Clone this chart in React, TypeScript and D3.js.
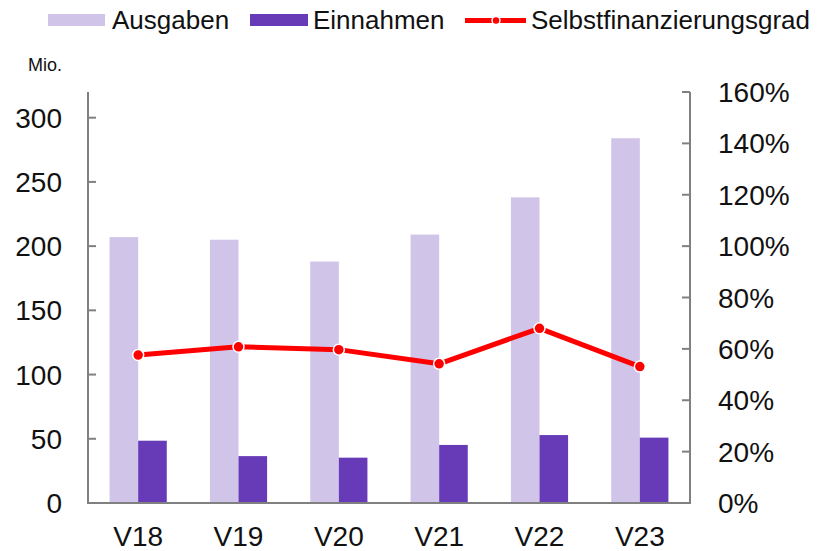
import React from "react";
import * as d3 from "d3";

const categories = ["V18", "V19", "V20", "V21", "V22", "V23"];
const ausgaben = [207, 205, 188, 209, 238, 284];
const einnahmen = [48.5, 36.5, 35.3, 45.2, 52.9, 50.9];
const selbstfinanzierungsgrad = [57.6, 60.8, 59.7, 54.2, 68.0, 53.1];
const leftTicks = [0, 50, 100, 150, 200, 250, 300];
const rightTicks = [0, 20, 40, 60, 80, 100, 120, 140, 160];

const W = 819;
const H = 551;
const FONT = "'Liberation Sans', Arial, sans-serif";
const LIGHT = "#D1C4E9";
const DARK = "#673AB7";
const RED = "#FF0000";
const AXIS = "#808080";

export default function App() {
  const left = 88;
  const right = 690;
  const top = 92;
  const bottom = 503;

  const x = d3.scaleBand<string>().domain(categories).range([left, right]).paddingInner(0.43).paddingOuter(0.215);
  const sub = d3.scaleBand<string>().domain(["a", "e"]).range([0, x.bandwidth()]);
  const yL = d3.scaleLinear().domain([0, 320]).range([bottom, top]);
  const yR = d3.scaleLinear().domain([0, 160]).range([bottom, top]);

  const line = d3
    .line<number>()
    .x((_, i) => (x(categories[i]) as number) + x.bandwidth() / 2)
    .y((d) => yR(d));

  return (
    <svg width={W} height={H} style={{ position: "absolute", left: 0, top: 0, background: "#fff" }} fontFamily={FONT}>
      {/* Legend */}
      <rect x={48} y={14} width={57} height={12} fill={LIGHT} />
      <text x={112} y={29} fontSize={26} fill="#111">Ausgaben</text>
      <rect x={250} y={14} width={58} height={12} fill={DARK} />
      <text x={313} y={29} fontSize={26} fill="#111">Einnahmen</text>
      <line x1={465} x2={526} y1={20.5} y2={20.5} stroke={RED} strokeWidth={5} />
      <circle cx={496} cy={20.5} r={4} fill={RED} stroke="#fff" strokeWidth={1.5} />
      <text x={531} y={29} fontSize={26} fill="#111">Selbstfinanzierungsgrad</text>

      <text x={28} y={71} fontSize={18} fill="#111">Mio.</text>

      {/* Bars */}
      {categories.map((c, i) => (
        <g key={c}>
          <rect
            x={(x(c) as number) + (sub("a") as number)}
            y={yL(ausgaben[i])}
            width={sub.bandwidth()}
            height={yL(0) - yL(ausgaben[i])}
            fill={LIGHT}
          />
          <rect
            x={(x(c) as number) + (sub("e") as number)}
            y={yL(einnahmen[i])}
            width={sub.bandwidth()}
            height={yL(0) - yL(einnahmen[i])}
            fill={DARK}
          />
        </g>
      ))}

      {/* Axes */}
      <line x1={left} x2={left} y1={top} y2={bottom} stroke={AXIS} strokeWidth={2} />
      <line x1={right} x2={right} y1={top} y2={bottom} stroke={AXIS} strokeWidth={2} />
      <line x1={left - 1} x2={right + 1} y1={bottom} y2={bottom} stroke={AXIS} strokeWidth={2} />
      {leftTicks.map((t) => (
        <g key={"l" + t}>
          <line x1={left} x2={left + 8} y1={yL(t)} y2={yL(t)} stroke={AXIS} strokeWidth={2} />
          <text x={62} y={yL(t)} dy="0.36em" textAnchor="end" fontSize={28} fill="#111">
            {t}
          </text>
        </g>
      ))}
      {rightTicks.map((t) => (
        <g key={"r" + t}>
          <line x1={right - 8} x2={right} y1={yR(t)} y2={yR(t)} stroke={AXIS} strokeWidth={2} />
          <text x={718} y={yR(t)} dy="0.36em" textAnchor="start" fontSize={28} fill="#111">
            {t + "%"}
          </text>
        </g>
      ))}
      {categories.map((c) => (
        <text key={"x" + c} x={(x(c) as number) + x.bandwidth() / 2} y={546} textAnchor="middle" fontSize={28} fill="#111">
          {c}
        </text>
      ))}

      {/* Line */}
      <path d={line(selbstfinanzierungsgrad) || ""} fill="none" stroke={RED} strokeWidth={5} strokeLinejoin="round" />
      {selbstfinanzierungsgrad.map((v, i) => (
        <circle
          key={"p" + i}
          cx={(x(categories[i]) as number) + x.bandwidth() / 2}
          cy={yR(v)}
          r={5.5}
          fill={RED}
          stroke="#fff"
          strokeWidth={1.5}
        />
      ))}
    </svg>
  );
}
